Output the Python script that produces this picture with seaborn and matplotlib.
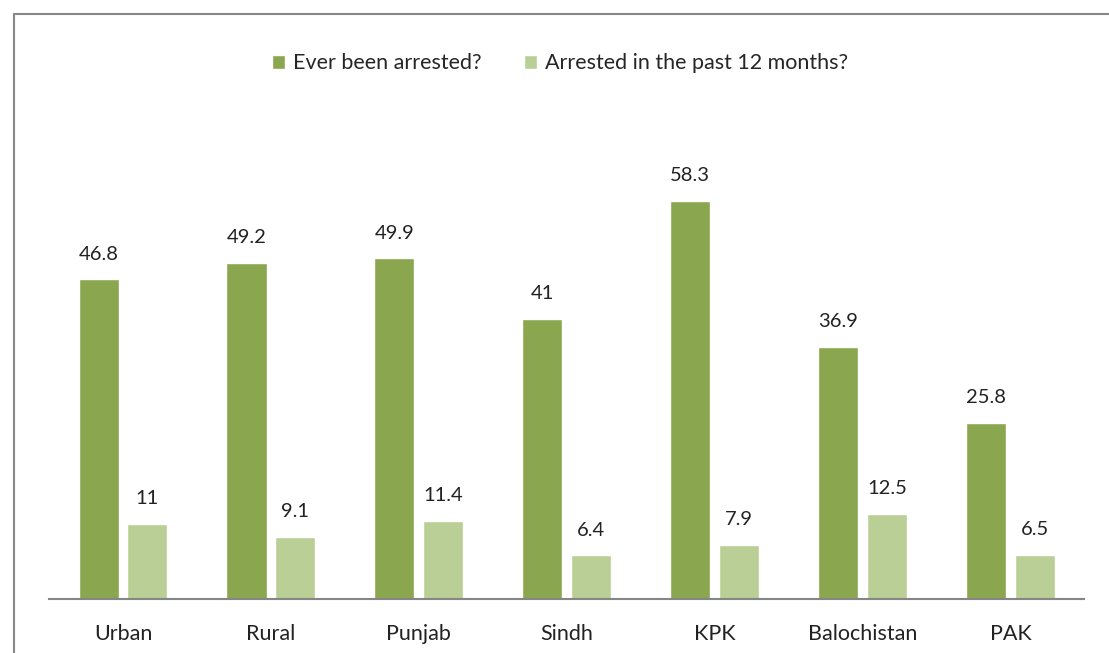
import matplotlib
matplotlib.use("Agg")
import matplotlib.pyplot as plt
from matplotlib.lines import Line2D
import seaborn as sns
import pandas as pd

# Data
regions = ["Urban", "Rural", "Punjab", "Sindh", "KPK", "Balochistan", "PAK"]
ever_arrested = [46.8, 49.2, 49.9, 41, 58.3, 36.9, 25.8]
arrested_12m = [11, 9.1, 11.4, 6.4, 7.9, 12.5, 6.5]
series_names = ["Ever been arrested?", "Arrested in the past 12 months?"]
colors = ["#8AA64E", "#BACF96"]

df = pd.DataFrame({
    "region": regions * 2,
    "value": ever_arrested + arrested_12m,
    "series": [series_names[0]] * len(regions) + [series_names[1]] * len(regions),
})

sns.set_style("white")
plt.rcParams['font.family'] = ['Lato', 'DejaVu Sans']

fig = plt.figure(figsize=(11.09, 6.53), dpi=100)
ax = fig.add_axes([0.0442, 0.0827, 0.9337, 0.732])

sns.barplot(data=df, x="region", y="value", hue="series", palette=colors,
            width=0.66, gap=0.18, ax=ax, saturation=1, legend=True)

for container in ax.containers:
    ax.bar_label(container, fmt="%g", padding=12, fontsize=14.5, color="#222222")

ax.set_xlim(-0.5, len(regions) - 0.5)
ax.set_ylim(0, 70)
ax.set_xlabel("")
ax.set_ylabel("")
ax.set_yticks([])
ax.tick_params(axis="x", length=0, pad=18, labelsize=15.5, labelcolor="#222222")
for side in ["top", "right", "left"]:
    ax.spines[side].set_visible(False)
ax.spines["bottom"].set_color("#868686")
ax.spines["bottom"].set_linewidth(1.5)

handles, labels = ax.get_legend_handles_labels()
ax.legend_.remove()
fig.legend(handles, labels, loc="center", bbox_to_anchor=(0.505, 0.903), ncol=2,
           frameon=False, fontsize=15.5, handlelength=0.6, handleheight=0.6,
           handletextpad=0.35, columnspacing=2.0)

# outer chart frame (left and top edges visible in the crop)
fig.add_artist(Line2D([0.0126, 0.0126], [0, 0.9786], color="#888888", lw=1.5))
fig.add_artist(Line2D([0.0126, 1.0], [0.9786, 0.9786], color="#888888", lw=1.5))

fig.savefig("out.png", dpi=100)
